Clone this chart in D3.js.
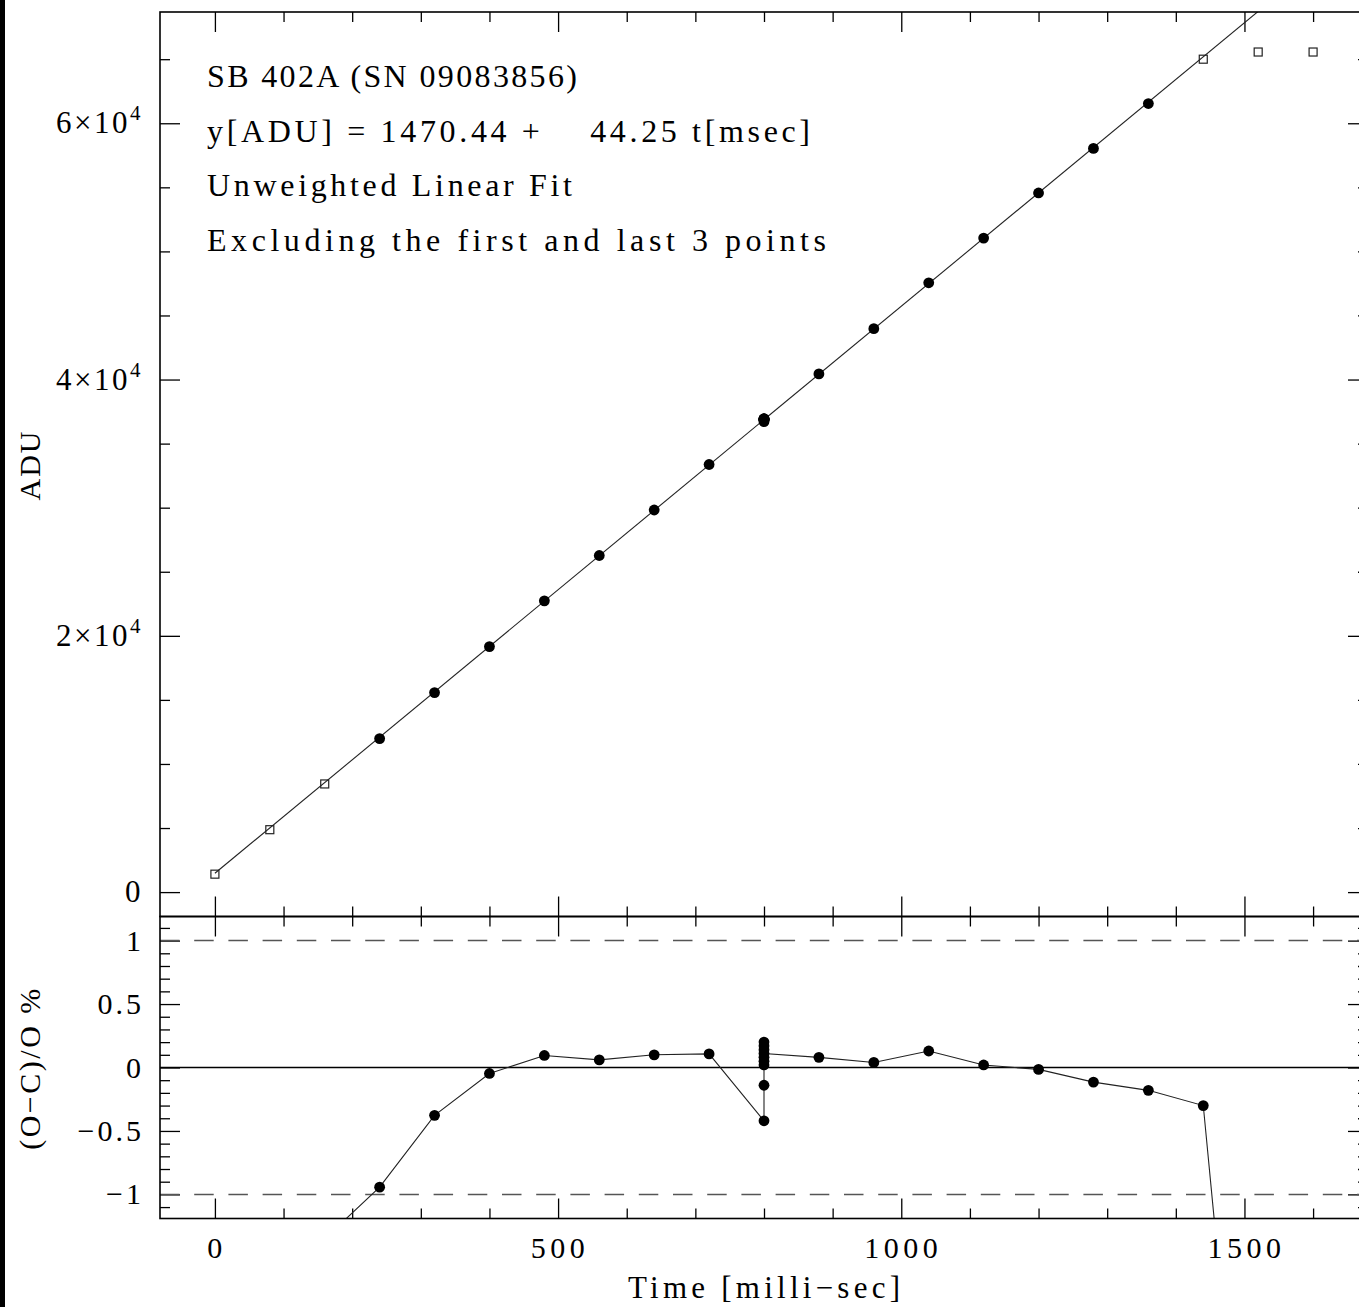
<!doctype html>
<html>
    <head>
        <title>SB 402A linearity fit</title>
        <script src="https://d3js.org/d3.v7.min.js"></script>
        <style type="text/css">
            body { margin: 0; background: #fff; }
            svg text { font-family: "Liberation Serif", "DejaVu Serif", serif; fill: #000; }
            .tick line { stroke: #000; stroke-width: 1.3px; }
        </style>
    </head>
    <body>
        <script>
        var times = [0, 80, 160, 240, 320, 400, 480, 560, 640, 720,
                     800, 800, 800, 800, 800, 800, 800, 800, 800,
                     880, 960, 1040, 1120, 1200, 1280, 1360, 1440, 1520, 1600];
        var adu = [1400, 4870, 8440, 11980, 15570, 19160, 22730, 26270, 29820, 33370,
                   36715, 36818, 36877, 36888, 36900, 36922, 36933, 36944, 36911,
                   40440, 43970, 47550, 51040, 54560, 58040, 61540, 65000, 65560, 65560];
        // (O-C)/O in percent
        var resid = [-5.0, -2.9, -1.35, -0.943, -0.377, -0.047, 0.095, 0.06, 0.10, 0.107,
                     -0.42, -0.14, 0.02, 0.05, 0.08, 0.14, 0.17, 0.20, 0.11,
                     0.08, 0.04, 0.13, 0.02, -0.015, -0.115, -0.18, -0.30, -4.8, -10.2];
        // excluded from the fit: first and last 3 exposure times
        var excluded = [0, 80, 160, 1440, 1520, 1600];
        var fitA = 1470.44, fitB = 44.25;

        var xTicks = [0, 500, 1000, 1500];
        var xTickLabels = ["0", "500", "1000", "1500"];
        var yTopTicks = [0, 20000, 40000, 60000];
        var yTopLabels = [["0", ""], ["2\u00d710", "4"], ["4\u00d710", "4"], ["6\u00d710", "4"]];
        var yBotTicks = [1, 0.5, 0, -0.5, -1];
        var yBotLabels = ["1", "0.5", "0", "\u22120.5", "\u22121"];
        var notes = ["SB 402A (SN 09083856)",
                     "y[ADU] = 1470.44 +    44.25 t[msec]",
                     "Unweighted Linear Fit",
                     "Excluding the first and last 3 points"];

        var W = 1359, H = 1307;
        var pLeft = 160, pRight = 1368, pTop = 12, pMid = 916.5, pBottom = 1218.5;

        var svg = d3.select("body").append("svg").attr("width", W).attr("height", H);
        svg.append("rect").attr("x", 0).attr("y", 0).attr("width", 5).attr("height", H).attr("fill", "#000");

        var x = d3.scaleLinear().domain([-80, 1680]).range([pLeft, pRight]);
        var yTop = d3.scaleLinear().domain([-1904, 68683]).range([pMid, pTop]);
        var yBot = d3.scaleLinear().domain([-1.19, 1.19]).range([pBottom, pMid]);

        var defs = svg.append("defs");
        defs.append("clipPath").attr("id", "clipTop").append("rect")
            .attr("x", pLeft).attr("y", pTop).attr("width", pRight - pLeft).attr("height", pMid - pTop);
        defs.append("clipPath").attr("id", "clipBot").append("rect")
            .attr("x", pLeft).attr("y", pMid).attr("width", pRight - pLeft).attr("height", pBottom - pMid);

        var pts = times.map(function(t, i) {
            return {t: t, y: adu[i], r: resid[i], ex: excluded.indexOf(t) >= 0};
        });

        // ---- ticks
        var xMinor = d3.range(0, 1700, 100).filter(function(v) { return v % 500 !== 0; });
        var yTopMinor = d3.range(0, 68683, 5000).filter(function(v) { return v % 20000 !== 0; });
        var yBotMinor = d3.range(-11, 12).map(function(v) { return v / 10; })
            .filter(function(v) { return Math.abs(v * 2 - Math.round(v * 2)) > 1e-6; });

        function ticks(axis, vals, size, tx, ty) {
            var g = svg.append("g").attr("transform", "translate(" + tx + "," + ty + ")")
                .call(axis.tickValues(vals).tickSize(size).tickFormat(""));
            g.select(".domain").remove();
        }
        [[xTicks, 20], [xMinor, 10]].forEach(function(p) {
            ticks(d3.axisBottom(x), p[0], p[1], 0, pTop);
            ticks(d3.axisTop(x), p[0], p[1], 0, pMid);
            ticks(d3.axisBottom(x), p[0], p[1], 0, pMid);
            ticks(d3.axisTop(x), p[0], p[1], 0, pBottom);
        });
        [[yTopTicks, 20], [yTopMinor, 10]].forEach(function(p) {
            ticks(d3.axisRight(yTop), p[0], p[1], pLeft, 0);
            ticks(d3.axisLeft(yTop), p[0], p[1], pRight, 0);
        });
        [[yBotTicks, 20], [yBotMinor, 10]].forEach(function(p) {
            ticks(d3.axisRight(yBot), p[0], p[1], pLeft, 0);
            ticks(d3.axisLeft(yBot), p[0], p[1], pRight, 0);
        });

        // ---- top panel
        var gTop = svg.append("g").attr("clip-path", "url(#clipTop)");
        gTop.append("line")
            .attr("x1", x(0)).attr("y1", yTop(fitA))
            .attr("x2", x(1680)).attr("y2", yTop(fitA + fitB * 1680))
            .attr("stroke", "#222").attr("stroke-width", 1.1);
        gTop.selectAll("rect.ex").data(pts.filter(function(d) { return d.ex; }))
            .enter().append("rect").attr("class", "ex")
            .attr("x", function(d) { return x(d.t) - 4; })
            .attr("y", function(d) { return yTop(d.y) - 4; })
            .attr("width", 8).attr("height", 8)
            .attr("fill", "none").attr("stroke", "#222").attr("stroke-width", 1.2);
        gTop.selectAll("circle").data(pts.filter(function(d) { return !d.ex; }))
            .enter().append("circle")
            .attr("cx", function(d) { return x(d.t); })
            .attr("cy", function(d) { return yTop(d.y); })
            .attr("r", 5.4).attr("fill", "#000");

        // ---- bottom panel
        var gBot = svg.append("g").attr("clip-path", "url(#clipBot)");
        gBot.append("line").attr("x1", pLeft).attr("x2", pRight)
            .attr("y1", yBot(0)).attr("y2", yBot(0))
            .attr("stroke", "#000").attr("stroke-width", 1.4);
        [1, -1].forEach(function(v) {
            gBot.append("line").attr("x1", pLeft).attr("x2", pRight)
                .attr("y1", yBot(v)).attr("y2", yBot(v))
                .attr("stroke", "#555").attr("stroke-width", 1.5)
                .attr("stroke-dasharray", "19.5,14.7");
        });
        var resLine = d3.line()
            .x(function(d) { return x(d.t); })
            .y(function(d) { return yBot(d.r); });
        gBot.append("path").attr("d", resLine(pts))
            .attr("fill", "none").attr("stroke", "#222").attr("stroke-width", 1.1);
        gBot.selectAll("circle").data(pts)
            .enter().append("circle")
            .attr("cx", function(d) { return x(d.t); })
            .attr("cy", function(d) { return yBot(d.r); })
            .attr("r", 5.4).attr("fill", "#000");

        // ---- frames
        [[pTop, pMid], [pMid, pBottom]].forEach(function(p) {
            svg.append("rect").attr("x", pLeft).attr("y", p[0])
                .attr("width", pRight - pLeft).attr("height", p[1] - p[0])
                .attr("fill", "none").attr("stroke", "#000").attr("stroke-width", 1.6);
        });

        // ---- labels
        var fs = 30;
        xTicks.forEach(function(v, i) {
            svg.append("text").attr("x", x(v) + 2).attr("y", 1258)
                .attr("text-anchor", "middle").attr("font-size", fs).attr("letter-spacing", 4.5)
                .text(xTickLabels[i]);
        });
        yTopTicks.forEach(function(v, i) {
            var t = svg.append("text").attr("x", 143).attr("y", yTop(v) + 10)
                .attr("text-anchor", "end").attr("font-size", 31).attr("letter-spacing", 2.5);
            t.append("tspan").text(yTopLabels[i][0]);
            if (yTopLabels[i][1]) {
                t.append("tspan").attr("dy", -13).attr("font-size", 21).text(yTopLabels[i][1]);
            }
        });
        yBotTicks.forEach(function(v, i) {
            svg.append("text").attr("x", 144).attr("y", yBot(v) + 10)
                .attr("text-anchor", "end").attr("font-size", fs).attr("letter-spacing", 3)
                .text(yBotLabels[i]);
        });

        svg.append("text").attr("transform", "translate(40,465) rotate(-90)")
            .attr("text-anchor", "middle").attr("font-size", fs).attr("letter-spacing", 2)
            .text("ADU");
        svg.append("text").attr("transform", "translate(40,1068) rotate(-90)")
            .attr("text-anchor", "middle").attr("font-size", fs).attr("letter-spacing", 2.5)
            .text("(O\u2212C)/O %");
        svg.append("text").attr("x", 628).attr("y", 1298)
            .attr("font-size", 31).attr("textLength", 272).attr("lengthAdjust", "spacing")
            .text("Time [milli\u2212sec]");

        var noteWidths = [370, 603, 365, 619];
        notes.forEach(function(s, i) {
            svg.append("text").attr("x", 207).attr("y", 87 + i * 54.5)
                .attr("font-size", 32)
                .attr("textLength", noteWidths[i]).attr("lengthAdjust", "spacing")
                .style("white-space", "pre")
                .text(s);
        });
        </script>
    </body>
</html>
